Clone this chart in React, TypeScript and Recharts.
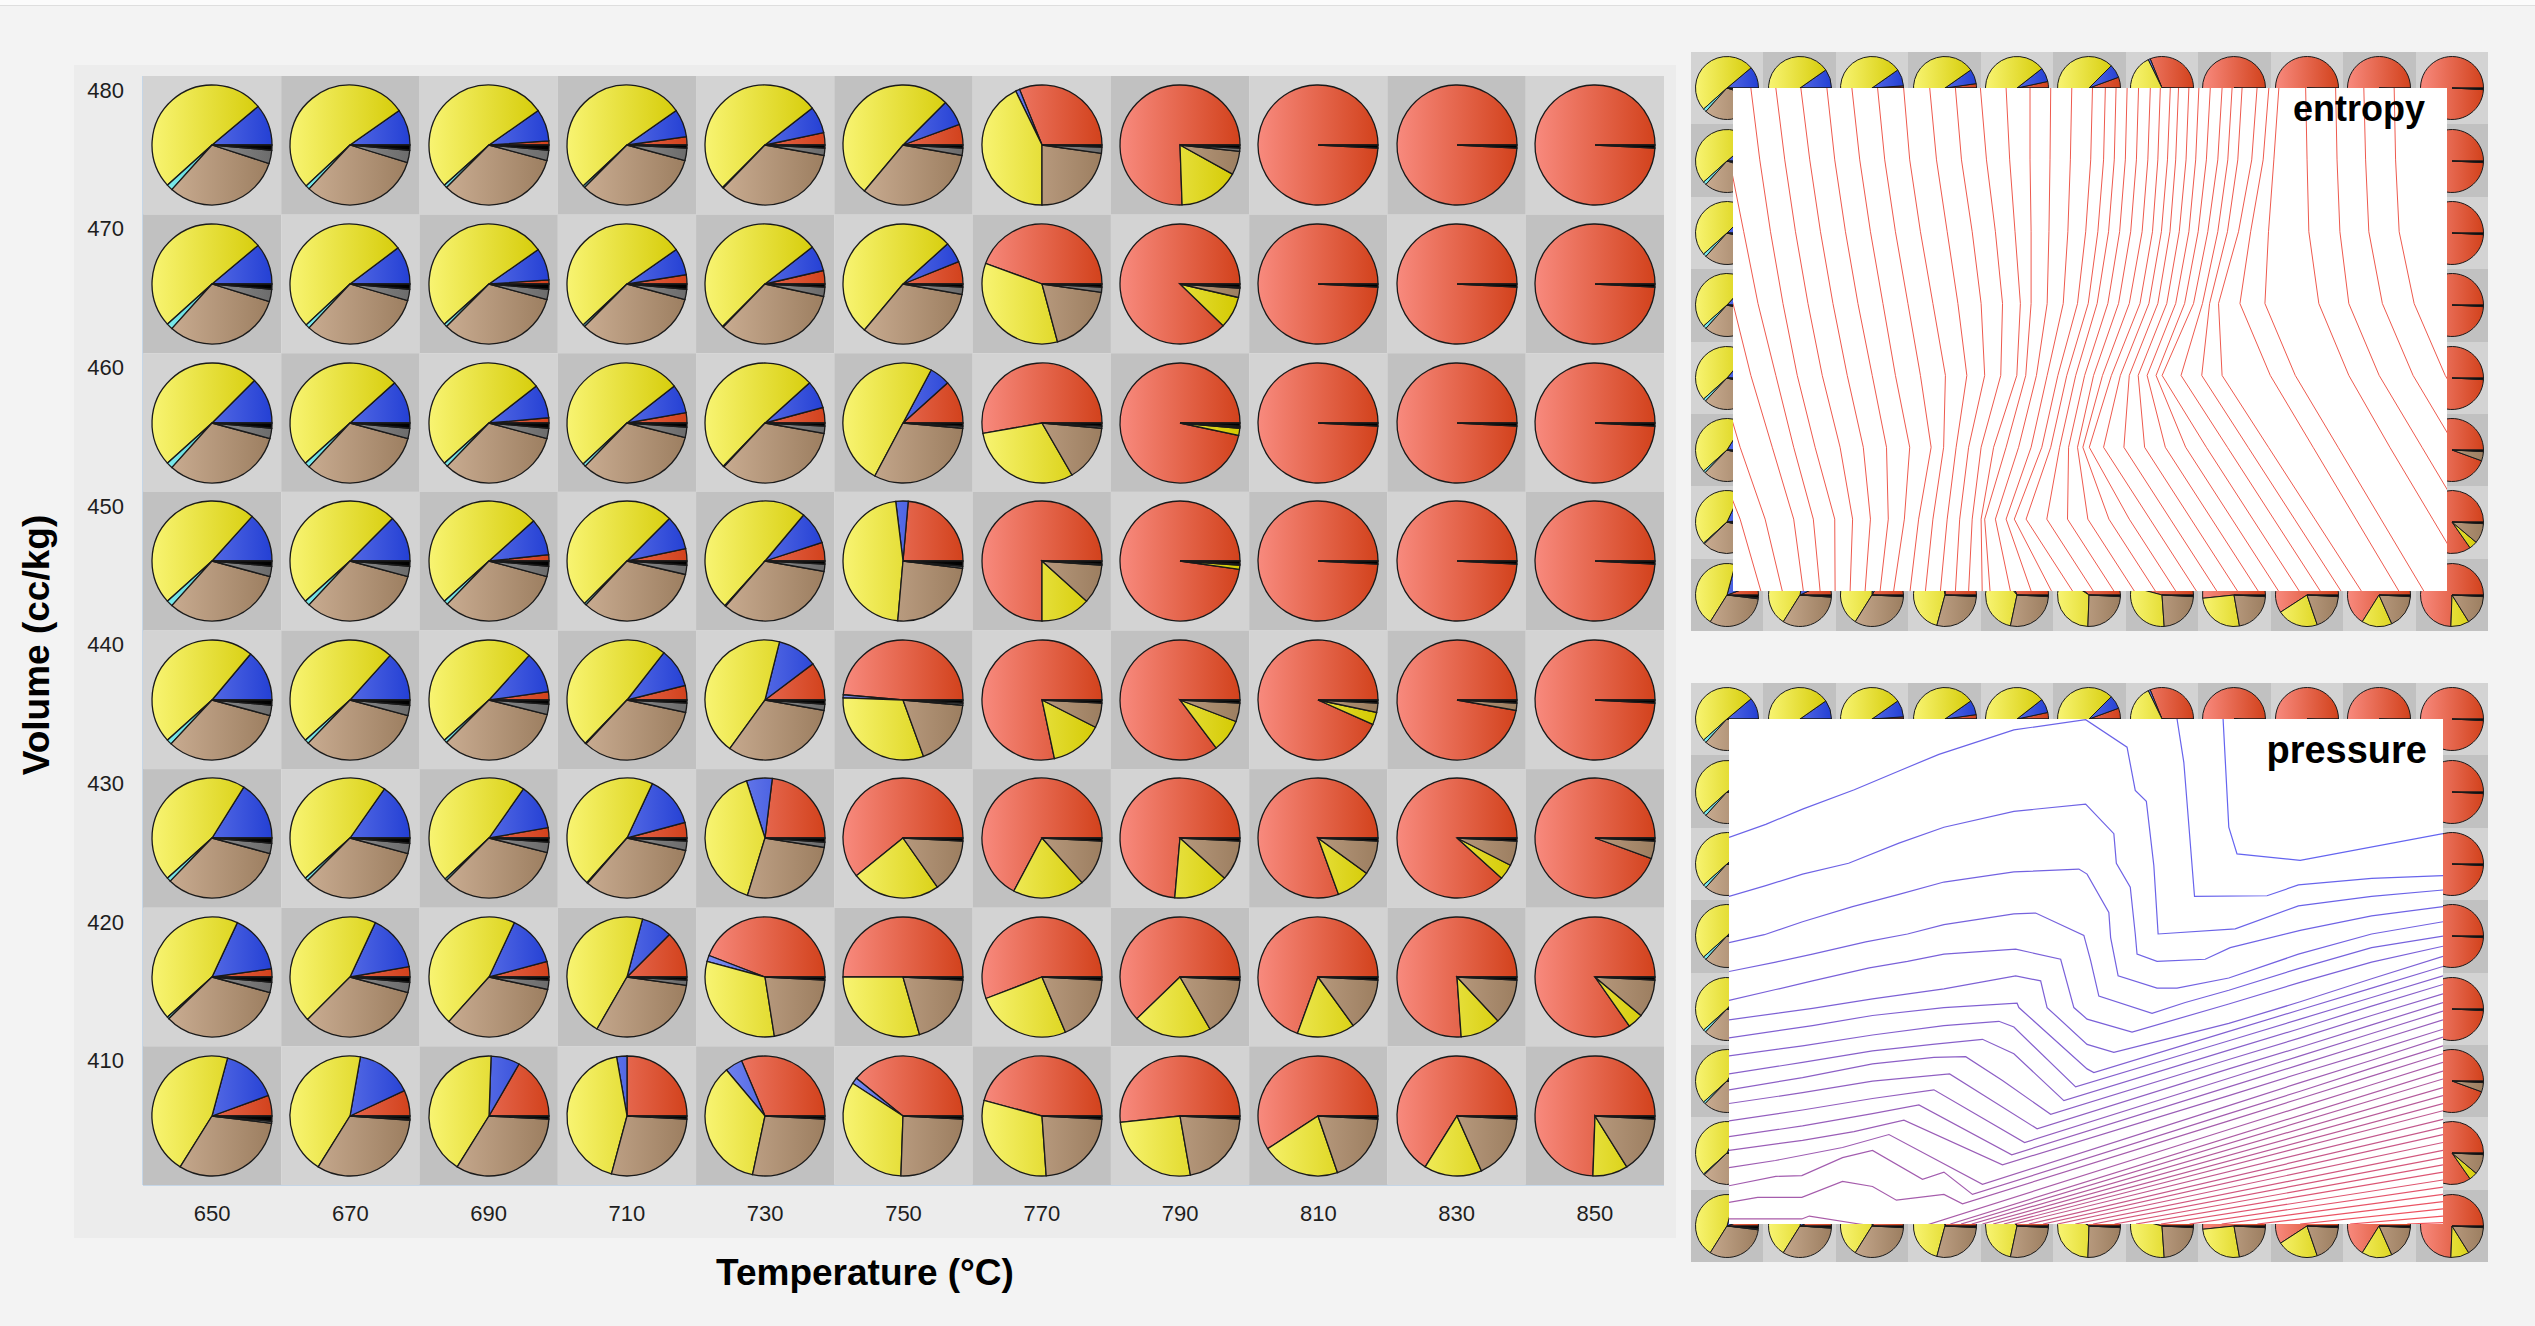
import React from 'react';
import { PieChart, Pie, Cell, ScatterChart, Scatter, XAxis, YAxis, LineChart, Line } from 'recharts';

// ---------------- data ----------------
const temperatures = [650, 670, 690, 710, 730, 750, 770, 790, 810, 830, 850];
const volumes = [480, 470, 460, 450, 440, 430, 420, 410];

// phase shares in degrees of the pie (360 = whole); rows follow volumes, columns follow temperatures
const redShare = [
  [0, 0, 4, 8, 12, 20, 112, 272, 357, 357, 357],
  [0, 0, 4, 9, 13, 22, 160, 316, 357, 357, 357],
  [0, 0, 5, 10, 15, 42, 190, 348, 357, 357, 357],
  [0, 0, 6, 12, 18, 85, 270, 352, 357, 357, 357],
  [0, 0, 8, 14, 37, 175, 282, 307, 336, 350, 357],
  [0, 0, 10, 15, 83, 219, 242, 265, 290, 318, 340],
  [8, 10, 15, 45, 159, 180, 201, 224, 250, 274, 305],
  [20, 25, 60, 90, 113, 141, 165, 186, 213, 238, 268],
];
const blueShare = [
  [40, 35, 31, 27, 26, 25, 4, 0, 0, 0, 0],
  [40, 37, 31, 26, 25, 20, 0, 0, 0, 0, 0],
  [45, 42, 33, 28, 27, 20, 0, 0, 0, 0, 0],
  [48, 45, 36, 33, 32, 12, 0, 0, 0, 0, 0],
  [50, 48, 40, 38, 39, 3, 0, 0, 0, 0, 0],
  [58, 55, 45, 50, 25, 0, 0, 0, 0, 0, 0],
  [57, 55, 50, 30, 6, 0, 0, 0, 0, 0, 0],
  [55, 55, 28, 10, 17, 6, 0, 0, 0, 0, 0],
];
const yellowShare = [
  [182, 188, 187, 188, 187, 185, 154, 59, 0, 0, 0],
  [182, 186, 187, 188, 187, 188, 125, 31, 0, 0, 0],
  [177, 180, 184, 185, 184, 180, 110, 7, 0, 0, 0],
  [174, 177, 180, 180, 178, 168, 48, 4, 0, 0, 0],
  [172, 174, 174, 174, 158, 112, 51, 32, 12, 0, 0],
  [164, 167, 168, 163, 145, 86, 70, 53, 34, 15, 0],
  [157, 160, 163, 165, 114, 106, 92, 76, 56, 39, 15],
  [163, 158, 150, 155, 128, 121, 109, 94, 76, 56, 34],
];
const tealShare = [
  [6, 4, 3, 2, 1, 0, 0, 0, 0, 0, 0],
  [6, 4, 3, 2, 1, 0, 0, 0, 0, 0, 0],
  [6, 5, 4, 3, 1, 0, 0, 0, 0, 0, 0],
  [6, 5, 4, 2, 1, 0, 0, 0, 0, 0, 0],
  [5, 4, 3, 1, 0, 0, 0, 0, 0, 0, 0],
  [4, 3, 2, 1, 0, 0, 0, 0, 0, 0, 0],
  [2, 0, 0, 0, 0, 0, 0, 0, 0, 0, 0],
  [0, 0, 0, 0, 0, 0, 0, 0, 0, 0, 0],
];
const brownShare = [
  [114, 116, 120, 120, 124, 120, 82, 23, 0, 0, 0],
  [115, 117, 120, 120, 122, 120, 67, 9, 0, 0, 0],
  [117, 118, 119, 120, 123, 113, 55, 1, 0, 0, 0],
  [117, 118, 119, 120, 121, 88, 38, 1, 0, 0, 0],
  [118, 119, 121, 121, 116, 65, 24, 18, 9, 7, 0],
  [119, 120, 121, 119, 98, 52, 45, 39, 33, 24, 17],
  [121, 120, 120, 112, 78, 71, 64, 57, 51, 44, 37],
  [115, 118, 119, 102, 99, 89, 83, 77, 68, 63, 55],
];
const grayShare = [
  [13, 12, 10, 12, 7, 7, 6, 3, 0, 0, 0],
  [12, 11, 10, 10, 9, 7, 5, 1, 0, 0, 0],
  [10, 10, 10, 10, 7, 2, 2, 1, 0, 0, 0],
  [10, 10, 10, 9, 7, 2, 1, 0, 0, 0, 0],
  [10, 10, 10, 9, 6, 2, 0, 0, 0, 0, 0],
  [10, 10, 10, 9, 5, 0, 0, 0, 0, 0, 0],
  [10, 10, 9, 5, 0, 0, 0, 0, 0, 0, 0],
  [2, 1, 0, 0, 0, 0, 0, 0, 0, 0, 0],
];
const blackShare = [
  [5, 5, 5, 3, 3, 3, 2, 3, 3, 3, 3],
  [5, 5, 5, 5, 3, 3, 3, 3, 3, 3, 3],
  [5, 5, 5, 4, 3, 3, 3, 3, 3, 3, 3],
  [5, 5, 5, 4, 3, 5, 3, 3, 3, 3, 3],
  [5, 5, 4, 3, 4, 3, 3, 3, 3, 3, 3],
  [5, 5, 4, 3, 4, 3, 3, 3, 3, 3, 3],
  [5, 5, 3, 3, 3, 3, 3, 3, 3, 3, 3],
  [5, 3, 3, 3, 3, 3, 3, 3, 3, 3, 3],
];

// entropy contours: temperature (°C) of each line at volumes 480 … 410
const entropyLineTemps = [
  [612, 618, 624, 630, 637, 644, 652, 657.8],
  [622, 628, 634, 640, 646, 652, 659, 663.8],
  [634, 639, 644, 650, 655, 661, 667, 669.7],
  [645, 649, 653, 657, 662, 667, 672.5, 674.4],
  [655, 657.5, 660.5, 664, 668, 673, 678.5, 678.6],
  [662, 664.5, 667.5, 671, 675, 680, 683.5, 682.8],
  [669, 671.5, 674.5, 678, 682, 686.5, 688.5, 687],
  [676.3, 678.5, 681.5, 685, 689, 693, 693.5, 691.2],
  [683.3, 685.5, 688.5, 692, 695.5, 699.5, 698, 695],
  [690.5, 692.5, 695.5, 699, 702.5, 705.5, 702, 699.6],
  [697.8, 699.5, 702.5, 706, 709.5, 709, 706, 703.9],
  [705.1, 707, 710, 713, 715.5, 712.5, 710, 708.1],
  [712.3, 714, 717, 719.5, 720.5, 716, 713.5, 712.3],
  [719.3, 721, 723.5, 725.5, 725, 719.5, 717, 716],
  [726.5, 727.5, 729, 730.5, 729.5, 723, 719.5, 719.8],
  [733.2, 733.2, 733.5, 733.5, 732, 726.5, 720.5, 722],
  [739, 738.8, 738.5, 738, 735, 730, 723.5, 727.7],
  [744.9, 744.5, 743.8, 742.5, 738, 733.5, 726.5, 733.5],
  [750.7, 750.2, 748.8, 746.5, 741, 736.5, 728.8, 739.2],
  [754.3, 753.8, 752.2, 749.5, 743.5, 739, 732.1, 745.1],
  [757.3, 756.8, 755.2, 752, 746, 741.5, 737.9, 750.9],
  [760.4, 759.9, 758.3, 755, 748.5, 744, 743.7, 756.7],
  [763.6, 763, 761.4, 758, 751, 746.5, 749.4, 762.4],
  [766.9, 766.2, 764.6, 761, 753.5, 748, 755.3, 768.3],
  [769.7, 769, 767.5, 764, 756, 749.8, 761, 774],
  [772.5, 771.7, 770, 766.5, 758.5, 753.8, 766.8, 779.8],
  [774.8, 774, 772.4, 769, 761, 759.5, 772.5, 785.5],
  [777.7, 776.9, 775, 771.5, 763.5, 765.3, 778.3, 791.3],
  [780.5, 779.6, 777.7, 774, 766, 771.1, 784.1, 797.1],
  [783.7, 782.6, 780.3, 776.5, 768.5, 776.8, 789.8, 802.8],
  [787, 785.8, 783, 779, 770.2, 782.6, 795.6, 808.6],
  [789.8, 788.6, 785.8, 781.5, 775.5, 788.5, 801.5, 814.5],
  [792.6, 791.4, 788.5, 783.5, 781.3, 794.3, 807.3, 820.3],
  [796.8, 795.3, 791.6, 786, 787, 800, 813, 826],
  [800.1, 798.5, 795, 792, 800.5, 812.5, 824.5, 836.5],
  [802.9, 801.5, 800, 799, 807.5, 819.5, 831.5, 843.5],
  [810.4, 810.8, 811.3, 814.1, 822.5, 834, 846, 858],
  [818.8, 819.2, 820, 822.5, 831, 843, 855, 867],
  [826.7, 827.2, 828.1, 831.9, 840.5, 852.5, 864.5, 876.5],
  [835.2, 835.6, 836.6, 840.8, 849.5, 861.5, 873.5, 885.5],
];

// pressure contours: [temperature, volume] vertices, top line first
const pressureLines = [
  [[788.4, 480], [790, 465], [792.3, 461.3], [810, 460.4], [850, 464.1]],
  [[775.5, 480], [777.4, 474], [780.4, 455.4], [800.7, 455.5], [809.5, 457], [830, 457.9], [850, 458.3]],
  [[650, 463.6], [660.3, 465.4], [670.6, 467.5], [685.1, 470.2], [697.6, 472.8], [708.8, 475.1], [729.8, 478.5], [749.9, 479.9], [761.5, 476.1], [763.8, 470.1], [766.9, 468.6], [769, 459.7], [770.2, 450.2], [791.8, 450.9], [809.5, 454.1], [830, 455.4], [850, 456.3]],
  [[650, 455.4], [660.3, 456.9], [670.6, 458.5], [683.5, 460], [697.6, 462.8], [710.2, 465], [729.8, 467.2], [749.9, 468.2], [757.8, 464.1], [758.5, 460], [762.4, 456.7], [763.8, 450.2], [764.3, 447.4], [769.9, 446.4], [783.4, 446.7], [790.4, 448.3], [810, 450.7], [830, 452.7], [850, 454]],
  [[650, 449], [659.9, 450.1], [670.6, 451.9], [684.6, 454], [697.6, 455.7], [710.2, 457.4], [729.8, 458.8], [748, 459.2], [750.3, 458.5], [756.4, 453.2], [756.9, 449.7], [759, 444.4], [769.9, 442.7], [775.5, 442.7], [790, 444.1], [809.5, 447.4], [830, 450.2], [850, 451.9]],
  [[650, 445], [663.1, 446.3], [673.4, 447.4], [688.3, 449.1], [700, 450.2], [710.2, 451.5], [729.8, 453], [735.9, 453.1], [749.4, 450], [751.3, 446.5], [753.6, 441.6], [768.5, 439.2], [777.8, 440.7], [790, 442.4], [809.5, 445.4], [830, 448.3], [850, 449.9]],
  [[650, 441], [663.1, 442.5], [673.4, 443.7], [689.3, 445.5], [700, 446.4], [710.2, 447.4], [730.3, 448.1], [742.9, 446.7], [746.6, 440], [750.3, 438.4], [762.9, 436.6], [790, 440.5], [810, 443.5], [830, 446.3], [850, 448.5]],
  [[650, 438.3], [673.4, 439.9], [690.2, 441.2], [710.2, 442.6], [730.3, 444.4], [737.3, 443.7], [739.1, 440], [750.3, 434.9], [757.8, 433.8], [790, 437.8], [810, 440.8], [830, 444], [850, 447.1]],
  [[650, 435.8], [673.4, 437.5], [690.2, 438.9], [710.2, 440], [730.7, 440.6], [731.2, 440], [750.3, 431.5], [752.2, 431], [790, 436.7], [810, 439.7], [830, 442.7], [850, 445.7]],
  [[650, 433.3], [670.6, 434.7], [690.2, 436.2], [710.2, 437.5], [725.6, 438.1], [729.8, 437.3], [747.1, 429], [790, 435.4], [810, 438.4], [830, 441.4], [850, 444.4]],
  [[650, 430.8], [670.6, 432.4], [690.2, 434], [707, 434.9], [721, 435.6], [729.8, 433.6], [743.8, 427.1], [790, 434.1], [810, 437.1], [830, 440.2], [850, 443.2]],
  [[650, 428.6], [670.6, 430.3], [690.2, 432.2], [707.4, 433.1], [716.3, 433.2], [726.6, 429.9], [740.1, 425.2], [790, 432.8], [810, 435.8], [830, 438.9], [850, 441.9]],
  [[650, 426.7], [670.6, 428.2], [690.2, 429.8], [711.8, 430.8], [736.3, 423.2], [790, 431.5], [810, 434.5], [830, 437.6], [850, 440.7]],
  [[650, 424.3], [670.6, 425.8], [690.2, 427.4], [707.4, 428.6], [732.8, 421.3], [790, 430.2], [810, 433.3], [830, 436.4], [850, 439.5]],
  [[650, 422.1], [670.6, 423.6], [690.2, 425.3], [703.2, 426.5], [729.2, 419.6], [790, 429], [810, 432.1], [830, 435.2], [850, 438.3]],
  [[650, 420.2], [670.6, 421.6], [685, 422.8], [699, 424.4], [726.6, 418.2], [790, 427.8], [810, 430.9], [830, 433.9], [850, 437]],
  [[650, 417.8], [663, 418.8], [681.8, 420.6], [694.8, 422.4], [721, 415.5], [790, 426.4], [810, 429.6], [830, 432.7], [850, 435.9]],
  [[650, 415.3], [663.1, 416.6], [670.4, 416.7], [681.8, 419.2], [690.2, 420.2], [704.2, 416.2], [710.2, 417.2], [718.2, 414.1], [790, 425.3], [810, 428.4], [830, 431.6], [850, 434.7]],
  [[650, 413], [658, 413.7], [670.4, 413.7], [681.8, 415.9], [690.2, 415.2], [696.9, 413.3], [710.2, 414.1], [715.4, 412.8], [790, 424.3], [810, 427.4], [830, 430.5], [850, 433.6]],
  [[650, 410.7], [670.4, 410.7], [672.5, 411.1], [686.5, 410], [695, 409.4], [705, 409.8], [790, 423.1], [810, 426.2], [830, 429.3], [850, 432.4]],
  [[712, 410], [850, 431.2]],
  [[715, 410], [850, 430.1]],
  [[718, 410], [850, 428.9]],
  [[721, 410], [850, 427.8]],
  [[724, 410], [850, 426.7]],
  [[727, 410], [850, 425.7]],
  [[730, 410], [850, 424.5]],
  [[734, 410], [850, 423.4]],
  [[738, 410], [850, 422.4]],
  [[742, 410], [850, 421.3]],
  [[747, 410], [850, 420.2]],
  [[752, 410], [850, 419.2]],
  [[758, 410], [850, 418.2]],
  [[764, 410], [850, 417.2]],
  [[771, 410], [850, 416.1]],
  [[779, 410], [850, 415.1]],
  [[788, 410], [850, 414.1]],
  [[798, 410], [850, 413.1]],
  [[810, 410], [850, 412.1]],
  [[824, 410], [850, 411.1]],
  [[840, 410], [850, 410.2]],
];

// ---------------- styling ----------------
const FONT = '"Liberation Sans", Arial, Helvetica, sans-serif';
const PAGE_BG = '#f3f3f3';
const PANEL_BG = '#ececec';
const CELL_LIGHT = '#d3d3d3';
const CELL_DARK = '#c1c1c1';

const phaseKeys = ['red', 'blue', 'yellow', 'teal', 'brown', 'gray', 'black'];
const phaseTables: any = {
  red: redShare, blue: blueShare, yellow: yellowShare, teal: tealShare,
  brown: brownShare, gray: grayShare, black: blackShare,
};
const phaseLight: any = {
  red: '#f88a7e', blue: '#8090f4', yellow: '#f8f472', teal: '#86f2f2',
  brown: '#d0b399', gray: '#a8a8a8', black: '#2a2a2a',
};
const phaseDark: any = {
  red: '#d2421c', blue: '#2440d4', yellow: '#d3c900', teal: '#2eb2bb',
  brown: '#9c7e60', gray: '#6c6c6c', black: '#000000',
};
const phaseSolid: any = {
  red: '#e5634b', blue: '#5066e4', yellow: '#e6de38', teal: '#5ad2d6',
  brown: '#b6987c', gray: '#8a8a8a', black: '#111111',
};

// layout
const PLOT_X = 143, PLOT_Y = 76, PLOT_W = 1521, PLOT_H = 1109;
const CELL_W = PLOT_W / temperatures.length;
const CELL_H = PLOT_H / volumes.length;
const MAIN_PIE = 138, MAIN_R = 60;
const INSET_PIE = 72, INSET_R = 31.5;

const sliceData = (r: number, c: number) =>
  phaseKeys.map((k) => ({ name: k, value: phaseTables[k][r][c] })).filter((d) => d.value > 0);

const cells = volumes.flatMap((v, r) => temperatures.map((t, c) => ({ t, v, r, c })));

const entropySeries = entropyLineTemps.map((line) => volumes.map((v, i) => ({ t: line[i], v })));
const pressureSeries = pressureLines.map((line) => line.map(([t, v]) => ({ t, v })));

const pressureColor = (i: number, n: number) => {
  const k = i / (n - 1);
  const r = Math.round(100 + 145 * k);
  const g = Math.round(100 - 18 * k);
  const b = Math.round(240 - 152 * k);
  return `rgb(${r},${g},${b})`;
};

function GradientDefs() {
  const sets = [
    { id: 'gm', c: MAIN_PIE / 2, r: MAIN_R },
    { id: 'gi', c: INSET_PIE / 2, r: INSET_R },
  ];
  return (
    <svg width="1" height="1" style={{ position: 'absolute', left: 0, top: 0, opacity: 0 }} aria-hidden="true">
      <defs>
        {sets.flatMap((s) =>
          phaseKeys.map((k) => (
            <linearGradient key={s.id + k} id={`${s.id}-${k}`} gradientUnits="userSpaceOnUse" x1={s.c - s.r} y1={0} x2={s.c + s.r} y2={0}>
              <stop offset="0" stopColor={phaseLight[k]} />
              <stop offset="1" stopColor={phaseDark[k]} />
            </linearGradient>
          ))
        )}
      </defs>
    </svg>
  );
}

function PieCell({ r, c, size, radius, grad }: any) {
  const data = sliceData(r, c);
  return (
    <PieChart width={size} height={size} margin={{ top: 0, right: 0, bottom: 0, left: 0 }}>
      <Pie
        data={data}
        dataKey="value"
        nameKey="name"
        cx={size / 2}
        cy={size / 2}
        innerRadius={0}
        outerRadius={radius}
        startAngle={0}
        endAngle={360}
        stroke="#1a1a1a"
        strokeWidth={size > 100 ? 1.3 : 1}
        isAnimationActive={false}
      >
        {data.map((d) => (
          <Cell key={d.name} fill={`url(#${grad}-${d.name}) ${phaseSolid[d.name]}`} />
        ))}
      </Pie>
    </PieChart>
  );
}

const CellRect = (props: any) => {
  const { cx, cy, payload } = props;
  return (
    <rect
      x={cx - CELL_W / 2}
      y={cy - CELL_H / 2}
      width={CELL_W}
      height={CELL_H}
      fill={(payload.r + payload.c) % 2 === 0 ? CELL_LIGHT : CELL_DARK}
    />
  );
};

const YTick = (props: any) => {
  const { x, y, payload } = props;
  return (
    <text x={x} y={y - 55} textAnchor="end" dominantBaseline="central" fontSize={22} fill="#1e1e1e" fontFamily={FONT}>
      {payload.value}
    </text>
  );
};

function InsetPanel({ top, rect, kind }: any) {
  const panelW = 797, panelH = 579;
  return (
    <>
      <div
        style={{
          position: 'absolute', left: 1691, top, width: panelW, height: panelH,
          display: 'grid', gridTemplateColumns: `repeat(${temperatures.length}, 1fr)`,
          gridTemplateRows: `repeat(${volumes.length}, 1fr)`,
        }}
      >
        {cells.map((cell) => {
          const border = cell.r === 0 || cell.r === volumes.length - 1 || cell.c === 0 || cell.c === temperatures.length - 1;
          return (
            <div
              key={`${cell.r}-${cell.c}`}
              style={{
                background: (cell.r + cell.c) % 2 === 0 ? CELL_LIGHT : CELL_DARK,
                display: 'flex', alignItems: 'center', justifyContent: 'center', overflow: 'hidden',
              }}
            >
              {border ? <PieCell r={cell.r} c={cell.c} size={INSET_PIE} radius={INSET_R} grad="gi" /> : null}
            </div>
          );
        })}
      </div>
      <div style={{ position: 'absolute', left: rect.x, top: rect.y, width: rect.w, height: rect.h, background: '#ffffff' }}>
        <LineChart width={rect.w} height={rect.h} margin={{ top: 0, right: 0, bottom: 0, left: 0 }}>
          <XAxis type="number" dataKey="t" domain={[650, 850]} hide allowDataOverflow />
          <YAxis type="number" domain={[410, 480]} hide allowDataOverflow />
          {kind === 'entropy'
            ? entropySeries.map((pts, i) => (
                <Line key={`e${i}`} data={pts} dataKey="v" type="linear" stroke="#ee5a4e" strokeWidth={1}
                  dot={false} activeDot={false} isAnimationActive={false} />
              ))
            : pressureSeries.map((pts, i) => (
                <Line key={`p${i}`} data={pts} dataKey="v" type="linear" stroke={pressureColor(i, pressureSeries.length)}
                  strokeWidth={1.2} dot={false} activeDot={false} isAnimationActive={false} />
              ))}
        </LineChart>
      </div>
    </>
  );
}

export default function App() {
  return (
    <div style={{ position: 'fixed', left: 0, top: 0, width: 2535, height: 1326, background: PAGE_BG, overflow: 'hidden', fontFamily: FONT }}>
      <GradientDefs />
      <div style={{ position: 'absolute', left: 0, top: 0, width: 2535, height: 5, background: '#fbfbfb', borderBottom: '1px solid #dedede' }} />

      {/* main panel */}
      <div style={{ position: 'absolute', left: 74, top: 65, width: 1602, height: 1173, background: PANEL_BG }}>
        <ScatterChart width={1602} height={1173} margin={{ top: 11, right: 12, bottom: 13, left: 9 }}>
          <Scatter data={cells} dataKey="v" shape={CellRect} isAnimationActive={false} />
          <XAxis
            type="number" dataKey="t" domain={[640, 860]} ticks={temperatures} interval={0}
            height={40} tickSize={0} tickMargin={20} tickLine={false}
            axisLine={{ stroke: '#b9cfe6', strokeWidth: 1.5 }}
            tick={{ fontSize: 22, fill: '#1e1e1e', fontFamily: FONT }}
          />
          <YAxis
            type="number" dataKey="v" domain={[405, 485]} ticks={volumes} interval={0}
            width={60} tickSize={0} tickMargin={19} tickLine={false}
            axisLine={{ stroke: '#b9cfe6', strokeWidth: 1.5 }}
            tick={<YTick />}
          />
        </ScatterChart>
      </div>

      {/* pies of the main grid */}
      <div
        style={{
          position: 'absolute', left: PLOT_X, top: PLOT_Y, width: PLOT_W, height: PLOT_H,
          display: 'grid', gridTemplateColumns: `repeat(${temperatures.length}, 1fr)`,
          gridTemplateRows: `repeat(${volumes.length}, 1fr)`,
        }}
      >
        {cells.map((cell) => (
          <div key={`${cell.r}-${cell.c}`} style={{ display: 'flex', alignItems: 'center', justifyContent: 'center', overflow: 'hidden' }}>
            <PieCell r={cell.r} c={cell.c} size={MAIN_PIE} radius={MAIN_R} grad="gm" />
          </div>
        ))}
      </div>

      {/* insets */}
      <InsetPanel top={52} rect={{ x: 1733, y: 88, w: 714, h: 503 }} kind="entropy" />
      <InsetPanel top={683} rect={{ x: 1729, y: 719, w: 714, h: 505 }} kind="pressure" />

      {/* titles */}
      <svg width={2535} height={1326} style={{ position: 'absolute', left: 0, top: 0, pointerEvents: 'none' }}>
        <text x={865} y={1285} textAnchor="middle" fontFamily={FONT} fontWeight="bold" fontSize={37} fill="#000">
          Temperature (°C)
        </text>
        <text x={49} y={645} textAnchor="middle" transform="rotate(-90 49 645)" fontFamily={FONT} fontWeight="bold" fontSize={37} fill="#000">
          Volume (cc/kg)
        </text>
        <text x={2425} y={121} textAnchor="end" fontFamily={FONT} fontWeight="bold" fontSize={36} fill="#000">
          entropy
        </text>
        <text x={2427} y={763} textAnchor="end" fontFamily={FONT} fontWeight="bold" fontSize={38} fill="#000">
          pressure
        </text>
      </svg>
    </div>
  );
}
